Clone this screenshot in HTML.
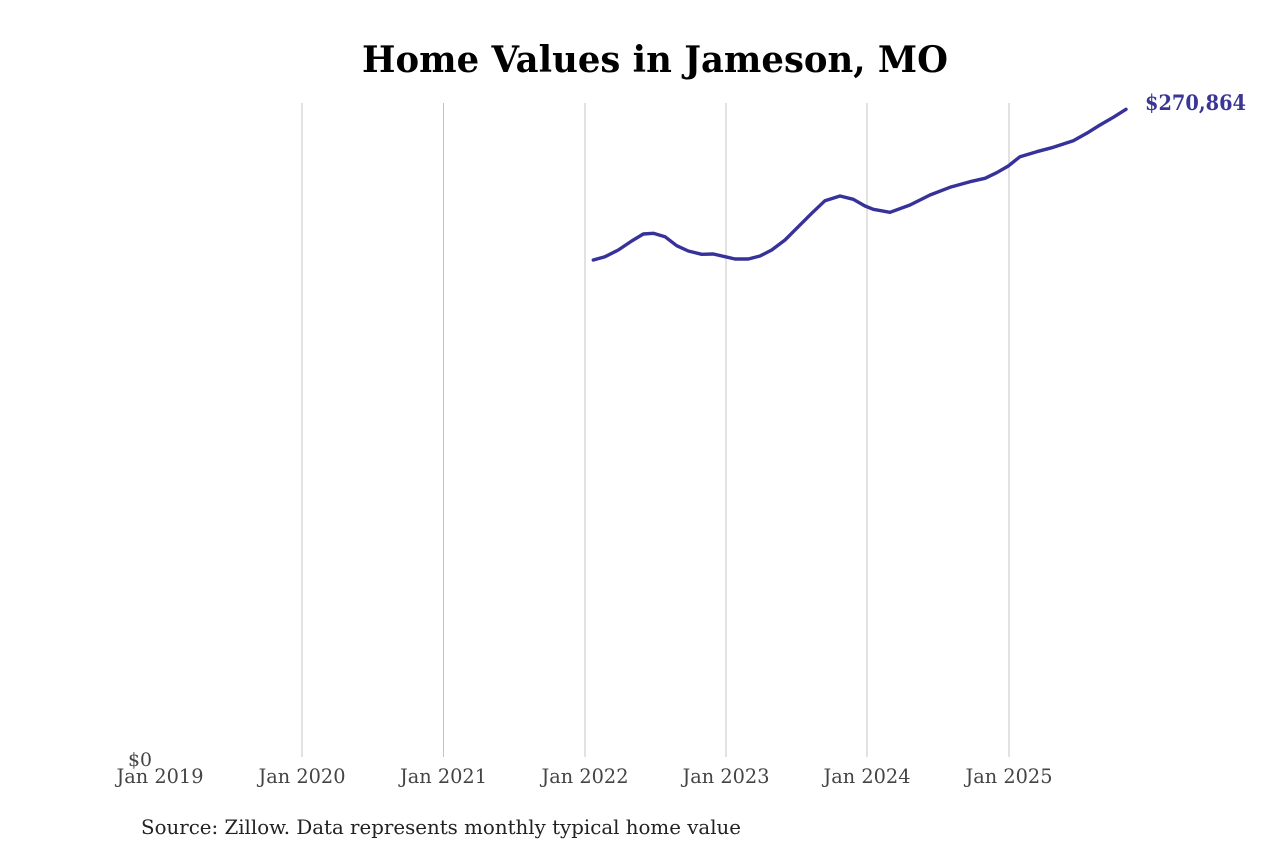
<!DOCTYPE html>
<html>
<head>
<meta charset="utf-8">
<style>
html,body{margin:0;padding:0;background:#fff;}
svg{display:block;}
</style>
</head>
<body>
<svg width="1280" height="853" viewBox="0 0 1280 853" xmlns="http://www.w3.org/2000/svg">
<rect width="1280" height="853" fill="#fff"/>
<text x="655" y="72" text-anchor="middle" font-family="DejaVu Serif, Liberation Serif, serif" font-weight="bold" font-size="36" fill="#000" textLength="586" lengthAdjust="spacingAndGlyphs">Home Values in Jameson, MO</text>
<g stroke="#c4c4c4" stroke-width="1">
<line x1="302" y1="103" x2="302" y2="757"/>
<line x1="443.5" y1="103" x2="443.5" y2="757"/>
<line x1="585" y1="103" x2="585" y2="757"/>
<line x1="726" y1="103" x2="726" y2="757"/>
<line x1="867" y1="103" x2="867" y2="757"/>
<line x1="1009" y1="103" x2="1009" y2="757"/>
</g>
<g font-family="DejaVu Serif, Liberation Serif, serif" font-size="20" fill="#444" text-anchor="middle">
<text x="160" y="783" textLength="87" lengthAdjust="spacingAndGlyphs">Jan 2019</text>
<text x="302" y="783" textLength="87" lengthAdjust="spacingAndGlyphs">Jan 2020</text>
<text x="443.5" y="783" textLength="87" lengthAdjust="spacingAndGlyphs">Jan 2021</text>
<text x="585" y="783" textLength="87" lengthAdjust="spacingAndGlyphs">Jan 2022</text>
<text x="726" y="783" textLength="87" lengthAdjust="spacingAndGlyphs">Jan 2023</text>
<text x="867" y="783" textLength="87" lengthAdjust="spacingAndGlyphs">Jan 2024</text>
<text x="1009" y="783" textLength="87" lengthAdjust="spacingAndGlyphs">Jan 2025</text>
</g>
<text x="152" y="766" text-anchor="end" font-family="DejaVu Serif, Liberation Serif, serif" font-size="19" fill="#444" textLength="24" lengthAdjust="spacingAndGlyphs">$0</text>
<polyline fill="none" stroke="#37319a" stroke-width="3.4" stroke-linejoin="round" stroke-linecap="round" points="593.3,260 605,256.7 618.3,250 631.7,241 643.3,234 653.3,233.3 665,236.7 676.7,245.7 688.3,251 701.7,254.3 713.3,254 725,256.7 735,259 748.3,259 760,256 771.7,250 785,240 798.3,226.7 811.7,213.3 825,200.7 840,196 853.3,199.3 865,206 873.3,209.3 890,212.3 910,205 930,195 950,187.3 970,181.7 985,178.3 996.7,172.7 1008.3,166 1020,156.7 1036.7,151.7 1053.3,147.3 1073.3,140.7 1086.7,133.3 1100,125 1113.3,117.3 1126,109.3"/>
<text x="1145" y="110" font-family="DejaVu Serif, Liberation Serif, serif" font-weight="bold" font-size="21" fill="#3b3594" textLength="101" lengthAdjust="spacingAndGlyphs">$270,864</text>
<text x="141" y="834" font-family="DejaVu Serif, Liberation Serif, serif" font-size="20" fill="#222" textLength="600" lengthAdjust="spacingAndGlyphs">Source: Zillow. Data represents monthly typical home value</text>
</svg>
</body>
</html>
